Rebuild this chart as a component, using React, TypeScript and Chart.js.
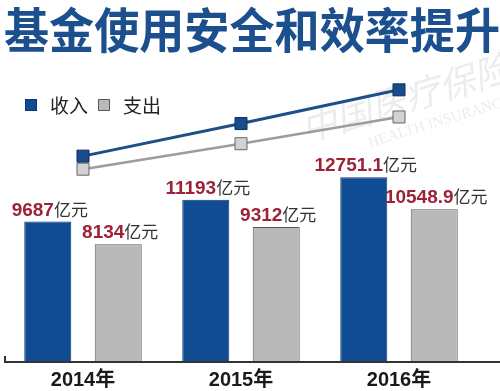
import React, { useEffect, useRef } from "react";
import { Chart, registerables } from "chart.js";

Chart.register(...registerables);

const titleText = "基金使用安全和效率提升";
const years = ["2014年", "2015年", "2016年"];
const seriesNames = ["收入", "支出"];
const incomeValues = [9687, 11193, 12751.1];
const expenseValues = [8134, 9312, 10548.9];
const unitText = "亿元";
const watermarkCn = "中国医疗保险";
const watermarkEn = "HEALTH INSURANCE";

const BLUE = "#0f4c94";
const BLUE_BORDER = "#0a3a73";
const GRAY = "#b9b9b9";
const GRAY_BORDER = "#5a5a5a";
const seriesColors = [BLUE, GRAY];
const seriesBorders = [BLUE_BORDER, GRAY_BORDER];

const watermarkPlugin = {
  id: "watermark",
  beforeDatasetsDraw(chart: any) {
    const ctx = chart.ctx;
    ctx.save();
    ctx.translate(405, 98);
    ctx.rotate(-17 * Math.PI / 180);
    ctx.textAlign = "center";
    ctx.textBaseline = "middle";
    ctx.fillStyle = "rgba(150,150,150,0.18)";
    ctx.font = 'italic 36px "Noto Sans CJK TC", serif';
    ctx.fillText(watermarkCn, 0, 0);
    ctx.font = '15px "Liberation Serif", serif';
    ctx.fillText(watermarkEn, 26, 33);
    ctx.restore();
  },
};

const labelPlugin = {
  id: "barValueLabels",
  afterDatasetsDraw(chart: any) {
    const ctx = chart.ctx;
    ctx.save();
    chart.data.datasets.forEach((ds: any, di: number) => {
      if (ds.type !== "bar") return;
      const meta = chart.getDatasetMeta(di);
      meta.data.forEach((bar: any, i: number) => {
        const numStr = String(ds.data[i]);
        const numFont = 'bold 19px "Liberation Sans", Arial, sans-serif';
        const unitFont = '17px "Noto Sans CJK SC", sans-serif';
        ctx.font = numFont;
        const w1 = ctx.measureText(numStr).width;
        ctx.font = unitFont;
        const w2 = ctx.measureText(unitText).width;
        const total = w1 + w2;
        const x0 = bar.x + 2 - total / 2;
        const yb = bar.y - 6;
        ctx.textBaseline = "alphabetic";
        ctx.textAlign = "left";
        ctx.font = numFont;
        ctx.fillStyle = "#9e2236";
        ctx.fillText(numStr, x0, yb);
        ctx.font = unitFont;
        ctx.fillStyle = "#333333";
        ctx.fillText(unitText, x0 + w1, yb);
      });
    });
    ctx.restore();
  },
};

const axisLinePlugin = {
  id: "axisLine",
  afterDatasetsDraw(chart: any) {
    const ctx = chart.ctx;
    const y = chart.scales.y.getPixelForValue(0);
    ctx.save();
    ctx.strokeStyle = "#333333";
    ctx.lineWidth = 2;
    ctx.beginPath();
    ctx.moveTo(5, y - 6);
    ctx.lineTo(5, y);
    ctx.lineTo(chart.width, y);
    ctx.stroke();
    ctx.restore();
  },
};

export default function App() {
  const ref = useRef<HTMLCanvasElement | null>(null);

  useEffect(() => {
    if (!ref.current) return;
    const chart = new Chart(ref.current, {
      type: "bar",
      data: {
        labels: years,
        datasets: [
          {
            type: "bar",
            label: seriesNames[0],
            data: incomeValues,
            backgroundColor: BLUE,
            borderColor: BLUE_BORDER,
            borderWidth: 1,
            yAxisID: "y",
            categoryPercentage: 0.892,
            barPercentage: 0.667,
          } as any,
          {
            type: "bar",
            label: seriesNames[1],
            data: expenseValues,
            backgroundColor: GRAY,
            borderColor: GRAY_BORDER,
            borderWidth: 1,
            yAxisID: "y",
            categoryPercentage: 0.892,
            barPercentage: 0.667,
          } as any,
          {
            type: "line",
            label: seriesNames[0] + "趋势",
            data: incomeValues,
            yAxisID: "yInc",
            clip: false,
            borderColor: "#1e4f86",
            borderWidth: 3,
            pointStyle: "rect",
            pointRadius: 8.5,
            pointBackgroundColor: "#1a4c8c",
            pointBorderColor: "#0c2f5a",
            pointBorderWidth: 1,
            tension: 0,
          } as any,
          {
            type: "line",
            label: seriesNames[1] + "趋势",
            data: expenseValues,
            yAxisID: "yExp",
            clip: false,
            borderColor: "#9c9c9c",
            borderWidth: 2.5,
            pointStyle: "rect",
            pointRadius: 8.5,
            pointBackgroundColor: "#d2d2d2",
            pointBorderColor: "#666666",
            pointBorderWidth: 1,
            tension: 0,
          } as any,
        ],
      },
      options: {
        responsive: false,
        animation: false,
        events: [],
        layout: { autoPadding: false, padding: { left: 4, right: 0, top: 0, bottom: -7 } },
        plugins: {
          title: {
            display: true,
            text: titleText,
            align: "start",
            color: "#1b4f8e",
            font: { family: '"Noto Sans CJK SC", sans-serif', size: 48, weight: "bold", lineHeight: 1.2 },
            padding: { top: 1, bottom: 20.6 },
          },
          legend: { display: false },
          tooltip: { enabled: false },
        },
        scales: {
          x: {
            grid: { display: false, drawTicks: false },
            border: { display: false },
            ticks: {
              color: "#1a1a1a",
              padding: 6,
              font: { family: '"Liberation Sans", "Noto Sans CJK SC", sans-serif', size: 20, weight: "bold", lineHeight: 1.2 },
            },
          },
          y: { display: false, min: 0, max: 19515 },
          yInc: { display: false, min: 170, max: 13243 },
          yExp: {
            display: true,
            position: "right",
            min: -784,
            max: 12295,
            grid: { display: false, drawTicks: false },
            border: { display: false },
            ticks: { display: false },
            afterFit: (scale: any) => {
              scale.width = 22;
            },
          },
        },
      } as any,
      plugins: [watermarkPlugin, labelPlugin, axisLinePlugin],
    });
    return () => chart.destroy();
  }, []);

  return (
    <div style={{ position: "fixed", left: 0, top: 0, width: 500, height: 391, background: "#ffffff" }}>
      <canvas ref={ref} width={500} height={391} style={{ display: "block" }} />
      <div
        style={{
          position: "absolute",
          left: 25,
          top: 95,
          height: 20,
          display: "flex",
          alignItems: "center",
          fontFamily: '"Noto Sans CJK SC", sans-serif',
          fontSize: 19,
          lineHeight: "20px",
          color: "#222222",
          whiteSpace: "nowrap",
        }}
      >
        {seriesNames.map((name, i) => (
          <div key={name} style={{ display: "flex", alignItems: "center", marginRight: 10 }}>
            <span
              style={{
                display: "inline-block",
                width: 12,
                height: 12,
                boxSizing: "border-box",
                background: seriesColors[i],
                border: `1px solid ${seriesBorders[i]}`,
                marginRight: 13,
              }}
            />
            <span>{name}</span>
          </div>
        ))}
      </div>
    </div>
  );
}
